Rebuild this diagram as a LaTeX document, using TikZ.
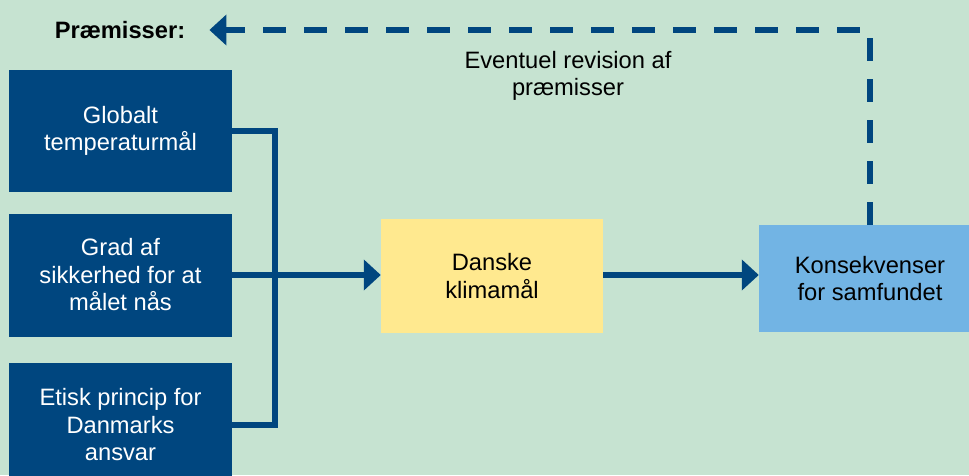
\documentclass[tikz,border=0pt]{standalone}
\usepackage{fontspec}
\setmainfont{Liberation Sans}
\usetikzlibrary{arrows.meta,calc}
\definecolor{bgc}{RGB}{198,227,209}
\definecolor{navy}{RGB}{0,70,127}
\definecolor{sand}{RGB}{255,233,143}
\definecolor{sky}{RGB}{114,180,228}
\tikzset{
  txt/.style={font=\fontsize{23.7}{27.5}\selectfont, align=center, inner sep=0pt},
  premise/.style={txt, fill=navy, text=white, minimum width=223pt, minimum height=123pt},
  goal/.style={txt, fill=sand, text=black, minimum width=222pt, minimum height=114pt},
  effect/.style={txt, fill=sky, text=black, minimum width=222pt, minimum height=107pt},
  conn/.style={draw=navy, line width=5.5pt},
  flow/.style={conn, -{Triangle[length=17pt,width=30pt]}},
  feedback/.style={draw=navy, line width=6pt, dash pattern=on 23pt off 18pt,
    -{Triangle[length=17pt,width=30pt]}}
}
\begin{document}
\begin{tikzpicture}[x=1pt,y=1pt]
  \useasboundingbox (0,0) rectangle (969,475);
  \clip (0,0) rectangle (969,475);
  \fill[bgc] (0,0) rectangle (969,475);

  % premises
  \node[premise, minimum height=122pt] (b1) at (120.5,344) {Globalt\\temperaturmål};
  \node[premise] (b2) at (120.5,200) {Grad af\\sikkerhed for at\\målet nås};
  \node[premise, minimum height=124pt] (b3) at (120.5,50) {Etisk princip for\\Danmarks\\ansvar};

  % goal and consequences
  \node[goal] (dk) at (492,199) {Danske\\klimamål};
  \node[effect] (ks) at (870,196.5) {Konsekvenser\\for samfundet};

  % labels
  \node[txt, font=\fontsize{23.7}{27.5}\selectfont\bfseries] (prem) at (120,445) {Præmisser:};
  \node[txt] (rev) at (568,399) {Eventuel revision af\\præmisser};

  % bracket joining the premises
  \coordinate (j) at (275,200);
  \draw[conn] (b1.east) -| (j) |- (b3.east);
  \draw[flow] (b2.east) -- (dk.west |- b2.east);
  \draw[flow] (dk.east |- b2.east) -- (ks.west |- b2.east);

  % feedback loop to the premises
  \draw[feedback, shorten >=24pt] (ks.north) |- (prem.east);
\end{tikzpicture}
\end{document}
